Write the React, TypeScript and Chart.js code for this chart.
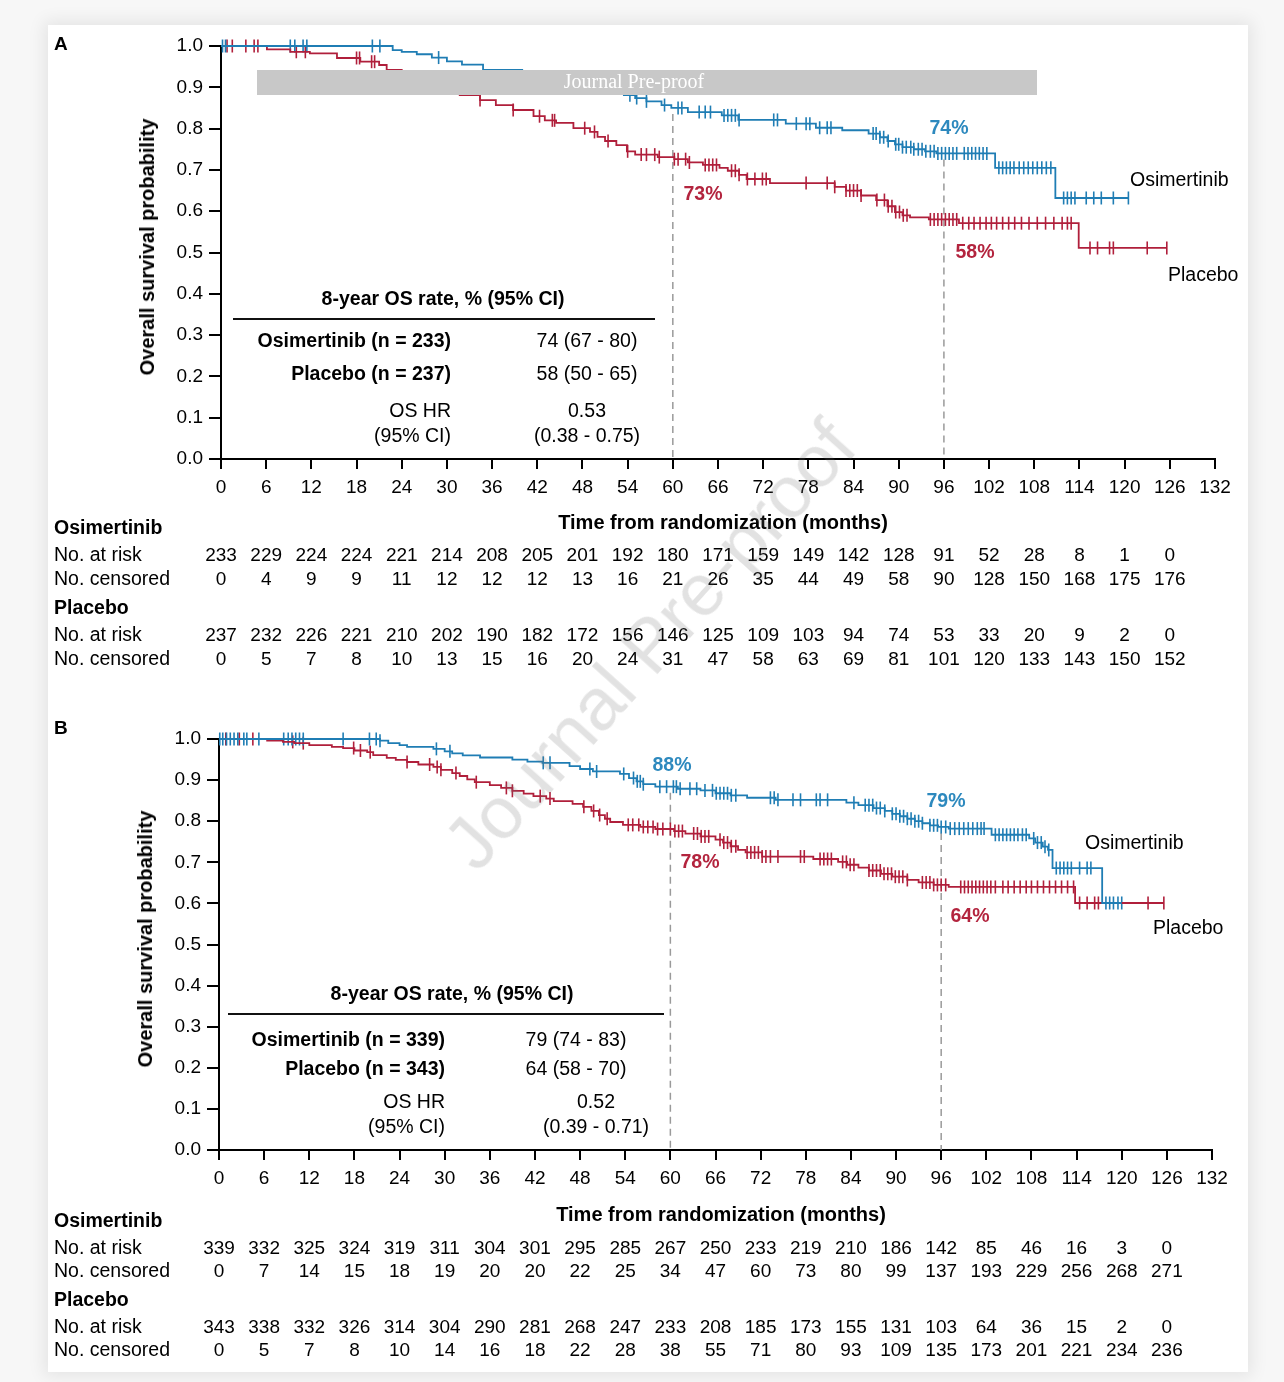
import React, { useEffect, useRef } from 'react';
import { Chart, registerables } from 'chart.js';
Chart.register(...registerables);

// ---------------- DATA ----------------
const xTicks = [0, 6, 12, 18, 24, 30, 36, 42, 48, 54, 60, 66, 72, 78, 84, 90, 96, 102, 108, 114, 120, 126, 132];
const yTicks = [0, 0.1, 0.2, 0.3, 0.4, 0.5, 0.6, 0.7, 0.8, 0.9, 1.0];
const riskTimes = [0, 6, 12, 18, 24, 30, 36, 42, 48, 54, 60, 66, 72, 78, 84, 90, 96, 102, 108, 114, 120, 126];

// Panel A – Osimertinib (event times / survival after event / censor times)
const osiA_t = [22.8, 24, 26, 28, 30, 32, 34.8, 40, 42, 44, 46, 48, 50, 52, 53.5, 55, 56.5, 58.5, 59.8, 62, 66.5, 68.7, 75, 79, 82.5, 86, 87.5, 88.5, 89.5, 90.5, 92, 93.5, 95, 102.8, 110.8];
const osiA_s = [0.990, 0.986, 0.980, 0.972, 0.963, 0.955, 0.942, 0.935, 0.928, 0.920, 0.910, 0.902, 0.895, 0.888, 0.881, 0.874, 0.866, 0.857, 0.850, 0.840, 0.832, 0.821, 0.812, 0.802, 0.796, 0.788, 0.779, 0.770, 0.762, 0.755, 0.750, 0.745, 0.740, 0.705, 0.632];
const osiA_c = [0.2, 0.6, 9.2, 9.8, 10.9, 11.4, 20.1, 21.1, 28.9, 54.3, 55.2, 56.5, 58.9, 60.7, 61.2, 63.5, 64.3, 65, 66.8, 67.3, 67.8, 68.3, 68.8, 73.4, 73.9, 76.4, 77.7, 78.2, 79.5, 80.5, 81, 86.6, 87, 87.5, 88, 88.6, 89.6, 90, 90.5, 91, 91.6, 92, 92.6, 93.1, 93.6, 94.2, 94.7, 95.2, 95.7, 96.2, 96.7, 97.2, 97.7, 98.7, 99.2, 99.7, 100.2, 100.7, 101.2, 101.7, 103.3, 103.8, 104.3, 104.8, 105.3, 106, 106.6, 107.2, 107.8, 108.4, 109, 109.6, 110.2, 111.9, 112.4, 112.9, 113.4, 114.9, 115.9, 116.9, 118.5, 120.5];

// Panel A – Placebo
const plaA_t = [6.1, 9.2, 11.8, 15.4, 18.5, 21, 22, 24, 26, 28, 30, 31.7, 34.4, 36.5, 38.8, 41.5, 43, 44.5, 46.8, 49, 50, 51, 52.5, 53.9, 55, 58, 60.2, 62, 64, 66.2, 67.3, 68.8, 69.8, 72.9, 81.5, 83, 85, 87, 88.5, 89.5, 90.5, 91.5, 94, 98, 113.9];
const plaA_s = [0.992, 0.986, 0.982, 0.971, 0.962, 0.954, 0.942, 0.930, 0.918, 0.905, 0.893, 0.881, 0.869, 0.857, 0.845, 0.830, 0.820, 0.814, 0.801, 0.792, 0.780, 0.770, 0.760, 0.745, 0.737, 0.731, 0.726, 0.718, 0.712, 0.705, 0.698, 0.688, 0.678, 0.668, 0.659, 0.650, 0.638, 0.627, 0.612, 0.598, 0.590, 0.585, 0.580, 0.571, 0.511];
const plaA_c = [0.8, 1.5, 3.3, 4.4, 4.9, 10, 11.2, 18, 18.4, 20, 20.4, 34.4, 38.8, 42.3, 44, 44.3, 48.3, 49.6, 51.4, 54, 55.8, 56.5, 57.6, 58.2, 60.2, 60.7, 61.7, 62.2, 64.3, 64.8, 65.3, 65.8, 67.8, 68.3, 68.8, 69.9, 70.9, 71.9, 72.4, 77.7, 80.5, 81.5, 83, 83.5, 84, 84.5, 85, 87.1, 88.1, 88.6, 89.1, 89.6, 90.1, 90.6, 91.1, 94.2, 94.7, 95.2, 95.7, 96.2, 96.7, 97.2, 97.7, 98.5, 99.3, 100, 100.8, 101.6, 102.3, 103, 103.8, 104.6, 105.4, 106.3, 107.3, 108.4, 109.5, 110.6, 111.7, 112.4, 112.9, 115.4, 116.4, 118, 118.5, 123, 125.6];

// Panel B – Osimertinib
const osiB_t = [21.4, 22.5, 24, 25, 28.5, 30, 31, 32.4, 34.7, 39, 41, 43, 46.6, 48, 49.7, 53.3, 54.5, 55.5, 56.4, 58, 61, 64, 66, 68, 70.2, 74, 83.4, 85, 87, 88.5, 89.5, 90.5, 91.5, 92.5, 93.5, 94.5, 95.6, 97, 102.7, 107.7, 108.5, 109.5, 110.2, 110.8, 117.4];
const osiB_s = [0.996, 0.990, 0.985, 0.981, 0.976, 0.970, 0.965, 0.960, 0.955, 0.950, 0.945, 0.942, 0.934, 0.927, 0.921, 0.915, 0.905, 0.897, 0.890, 0.884, 0.879, 0.875, 0.868, 0.863, 0.857, 0.852, 0.845, 0.839, 0.832, 0.825, 0.818, 0.812, 0.806, 0.800, 0.795, 0.790, 0.786, 0.782, 0.767, 0.758, 0.748, 0.738, 0.730, 0.686, 0.601];
const osiB_c = [0.1, 0.5, 1, 1.5, 2, 2.5, 3.3, 3.7, 5.3, 8.6, 9.2, 9.7, 10.2, 10.7, 11.2, 16.5, 20, 20.9, 21.4, 28.9, 30.7, 43.1, 44, 49.3, 50.2, 53.8, 55.1, 55.6, 56, 56.4, 58.6, 59.5, 60.4, 60.8, 61.3, 62.6, 63.5, 64.6, 65.6, 66.1, 66.6, 67.1, 67.6, 68.1, 68.7, 73.3, 73.8, 74.3, 76.3, 77.3, 79.4, 79.9, 80.9, 84.4, 85.9, 86.4, 86.9, 87.4, 87.9, 88.5, 89.5, 90, 90.5, 91, 91.5, 92, 92.5, 93, 93.5, 94.5, 95, 95.5, 96, 96.6, 97.2, 97.8, 98.4, 99, 99.6, 100.2, 100.8, 101.3, 101.7, 103.2, 103.7, 104.2, 104.7, 105.2, 105.7, 106.2, 106.8, 107.3, 108.3, 108.8, 109.3, 109.8, 110.3, 111.3, 111.8, 112.3, 112.8, 113.3, 114.4, 115.4, 115.9, 117.9, 118.4, 118.9, 119.5, 120];

// Panel B – Placebo
const plaB_t = [6.4, 8.5, 10, 12, 15, 16.5, 18, 19.7, 20.5, 22.3, 23.5, 25, 26.5, 28.5, 29.5, 31, 32, 33, 34, 36, 37.5, 39, 40.5, 41.8, 43.5, 44.5, 47, 48.4, 49.5, 50.5, 51.3, 52, 53.7, 56, 58, 60.5, 62, 64, 66, 67, 68, 69, 70, 72.2, 79, 82.3, 83.5, 85, 86.4, 88, 89.5, 91.5, 93, 95, 97, 113.8];
const plaB_s = [0.996, 0.993, 0.990, 0.985, 0.981, 0.978, 0.972, 0.968, 0.961, 0.954, 0.949, 0.944, 0.938, 0.932, 0.925, 0.917, 0.910, 0.902, 0.895, 0.888, 0.881, 0.874, 0.867, 0.861, 0.855, 0.849, 0.842, 0.835, 0.825, 0.815, 0.806, 0.798, 0.791, 0.786, 0.781, 0.776, 0.770, 0.763, 0.755, 0.748, 0.739, 0.730, 0.724, 0.714, 0.708, 0.701, 0.694, 0.687, 0.680, 0.672, 0.665, 0.657, 0.651, 0.645, 0.640, 0.601];
const plaB_c = [0.9, 2.7, 4.5, 9.8, 11.2, 17.9, 18.8, 20.1, 25, 28, 29, 29.5, 31.5, 34.2, 38.2, 39, 42.7, 44, 48.5, 49.8, 50.6, 51.6, 54.4, 55, 55.8, 56.4, 57, 57.7, 58.3, 59, 60, 60.6, 61.1, 61.6, 63.1, 63.6, 64.1, 64.6, 65.1, 66.6, 67.1, 67.6, 68.1, 68.7, 70.2, 70.7, 71.2, 71.7, 72.2, 72.7, 73.3, 74.3, 77.3, 77.8, 79.9, 80.4, 80.9, 81.4, 82.9, 83.4, 83.9, 84.4, 86.4, 86.9, 87.4, 87.9, 88.4, 88.9, 89.4, 89.9, 90.4, 90.9, 91.5, 93.5, 94, 94.5, 95, 95.5, 96, 96.6, 98.6, 99.1, 99.6, 100.1, 100.6, 101.1, 101.6, 102.1, 102.6, 103.2, 104.2, 104.9, 105.7, 106.5, 107.3, 108, 108.8, 109.6, 110.4, 111.2, 112, 112.8, 113.6, 114.4, 115.4, 116.4, 116.9, 123.5, 125.6];

// Risk tables
const riskA_osiAtRisk = [233, 229, 224, 224, 221, 214, 208, 205, 201, 192, 180, 171, 159, 149, 142, 128, 91, 52, 28, 8, 1, 0];
const riskA_osiCens = [0, 4, 9, 9, 11, 12, 12, 12, 13, 16, 21, 26, 35, 44, 49, 58, 90, 128, 150, 168, 175, 176];
const riskA_plaAtRisk = [237, 232, 226, 221, 210, 202, 190, 182, 172, 156, 146, 125, 109, 103, 94, 74, 53, 33, 20, 9, 2, 0];
const riskA_plaCens = [0, 5, 7, 8, 10, 13, 15, 16, 20, 24, 31, 47, 58, 63, 69, 81, 101, 120, 133, 143, 150, 152];
const riskB_osiAtRisk = [339, 332, 325, 324, 319, 311, 304, 301, 295, 285, 267, 250, 233, 219, 210, 186, 142, 85, 46, 16, 3, 0];
const riskB_osiCens = [0, 7, 14, 15, 18, 19, 20, 20, 22, 25, 34, 47, 60, 73, 80, 99, 137, 193, 229, 256, 268, 271];
const riskB_plaAtRisk = [343, 338, 332, 326, 314, 304, 290, 281, 268, 247, 233, 208, 185, 173, 155, 131, 103, 64, 36, 15, 2, 0];
const riskB_plaCens = [0, 5, 7, 8, 10, 14, 16, 18, 22, 28, 38, 55, 71, 80, 93, 109, 135, 173, 201, 221, 234, 236];

// Inset tables
const insetA_rows = ['Osimertinib (n = 233)', 'Placebo (n = 237)'];
const insetA_vals = ['74 (67 - 80)', '58 (50 - 65)'];
const insetA_hr = ['0.53', '(0.38 - 0.75)'];
const insetB_rows = ['Osimertinib (n = 339)', 'Placebo (n = 343)'];
const insetB_vals = ['79 (74 - 83)', '64 (58 - 70)'];
const insetB_hr = ['0.52', '(0.39 - 0.71)'];

// Landmarks
const marksA = [60, 96];
const marksB = [60, 96];

// ---------------- STYLE ----------------
const BLUE = '#1f7db4';
const RED = '#b01f3b';
const BLUE_TXT = '#2d89be';
const RED_TXT = '#b3243e';
const FONT = "'Liberation Sans', Arial, Helvetica, sans-serif";

function survAt(times: number[], surv: number[], t: number) {
  let s = 1;
  for (let i = 0; i < times.length; i++) if (times[i] <= t) s = surv[i];
  return s;
}

function kmPoints(times: number[], surv: number[], cens: number[]) {
  const end = Math.max(...cens, ...times);
  const pts = [{ x: 0, y: 1 }];
  times.forEach((t, i) => pts.push({ x: t, y: surv[i] }));
  pts.push({ x: end, y: survAt(times, surv, end) });
  return pts;
}
function censPoints(times: number[], surv: number[], cens: number[]) {
  return cens.map((t) => ({ x: t, y: survAt(times, surv, t) }));
}

type Txt = { s: string; x: number; y: number; size?: number; bold?: boolean; align?: CanvasTextAlign; color?: string; family?: string };

interface PanelCfg {
  ox: number; oy: number; W: number; H: number;
  area: { left: number; right: number; top: number; bottom: number };
  osi: { t: number[]; s: number[]; c: number[] };
  pla: { t: number[]; s: number[]; c: number[] };
  risk: number[][];
  riskRows: number[];
  marks: number[];
  texts: Txt[];
  inset: { rows: string[]; vals: string[]; hr: string[]; titleX: number; titleY: number; lineX0: number; lineX1: number; lineY: number; rowRight: number; valX: number; hrX: number; rowY: number[] };
  bar?: { x0: number; x1: number; y0: number; y1: number; textX: number };
}

function drawText(ctx: CanvasRenderingContext2D, cfg: PanelCfg, t: Txt) {
  ctx.save();
  ctx.font = `${t.bold ? 'bold ' : ''}${t.size || 19}px ${t.family || FONT}`;
  ctx.fillStyle = t.color || '#000';
  ctx.textAlign = t.align || 'left';
  ctx.textBaseline = 'middle';
  ctx.fillText(t.s, t.x - cfg.ox, t.y - cfg.oy);
  ctx.restore();
}

function makeOverlay(cfg: PanelCfg) {
  return {
    id: 'overlay',
    beforeDatasetsDraw(chart: any) {
      const ctx = chart.ctx as CanvasRenderingContext2D;
      const xs = chart.scales.x, ys = chart.scales.y;
      ctx.save();
      ctx.strokeStyle = '#9a9a9a';
      ctx.lineWidth = 1.5;
      ctx.setLineDash([7, 5]);
      cfg.marks.forEach((m) => {
        const x = xs.getPixelForValue(m);
        const yTop = ys.getPixelForValue(survAt(cfg.osi.t, cfg.osi.s, m)) + 6;
        ctx.beginPath();
        ctx.moveTo(x, yTop);
        ctx.lineTo(x, ys.getPixelForValue(0));
        ctx.stroke();
      });
      ctx.restore();
    },
    afterDraw(chart: any) {
      const ctx = chart.ctx as CanvasRenderingContext2D;
      const xs = chart.scales.x;
      if (cfg.bar) {
        ctx.save();
        ctx.fillStyle = '#c8c8c8';
        ctx.fillRect(cfg.bar.x0 - cfg.ox, cfg.bar.y0 - cfg.oy, cfg.bar.x1 - cfg.bar.x0, cfg.bar.y1 - cfg.bar.y0);
        ctx.restore();
        drawText(ctx, cfg, { s: 'Journal Pre-proof', x: cfg.bar.textX, y: (cfg.bar.y0 + cfg.bar.y1) / 2, size: 20, color: '#ffffff', align: 'center', family: "'Liberation Serif', 'DejaVu Serif', serif" });
      }
      cfg.texts.forEach((t) => drawText(ctx, cfg, t));
      const ins = cfg.inset;
      drawText(ctx, cfg, { s: '8-year OS rate, % (95% CI)', x: ins.titleX, y: ins.titleY, size: 19.5, bold: true, align: 'center' });
      ctx.save();
      ctx.strokeStyle = '#111';
      ctx.lineWidth = 2;
      ctx.beginPath();
      ctx.moveTo(ins.lineX0 - cfg.ox, ins.lineY - cfg.oy);
      ctx.lineTo(ins.lineX1 - cfg.ox, ins.lineY - cfg.oy);
      ctx.stroke();
      ctx.restore();
      ins.rows.forEach((r, i) => {
        drawText(ctx, cfg, { s: r, x: ins.rowRight, y: ins.rowY[i], size: 19.5, bold: true, align: 'right' });
        drawText(ctx, cfg, { s: ins.vals[i], x: ins.valX, y: ins.rowY[i], size: 19.5, align: 'center' });
      });
      drawText(ctx, cfg, { s: 'OS HR', x: ins.rowRight, y: ins.rowY[2], size: 19.5, align: 'right' });
      drawText(ctx, cfg, { s: '(95% CI)', x: ins.rowRight, y: ins.rowY[3], size: 19.5, align: 'right' });
      drawText(ctx, cfg, { s: ins.hr[0], x: ins.hrX, y: ins.rowY[2], size: 19.5, align: 'center' });
      drawText(ctx, cfg, { s: ins.hr[1], x: ins.hrX, y: ins.rowY[3], size: 19.5, align: 'center' });
      const r = cfg.riskRows;
      drawText(ctx, cfg, { s: 'Osimertinib', x: 54, y: r[0], size: 19.5, bold: true });
      drawText(ctx, cfg, { s: 'No. at risk', x: 54, y: r[1], size: 19.5 });
      drawText(ctx, cfg, { s: 'No. censored', x: 54, y: r[2], size: 19.5 });
      drawText(ctx, cfg, { s: 'Placebo', x: 54, y: r[3], size: 19.5, bold: true });
      drawText(ctx, cfg, { s: 'No. at risk', x: 54, y: r[4], size: 19.5 });
      drawText(ctx, cfg, { s: 'No. censored', x: 54, y: r[5], size: 19.5 });
      const rowYs = [r[1], r[2], r[4], r[5]];
      cfg.risk.forEach((vals, ri) => {
        vals.forEach((v, i) => {
          const x = xs.getPixelForValue(riskTimes[i]) + cfg.ox;
          drawText(ctx, cfg, { s: String(v), x, y: rowYs[ri], size: 19, align: 'center' });
        });
      });
    },
  };
}

function buildConfig(cfg: PanelCfg): any {
  const a = cfg.area;
  const tickFont = { family: FONT, size: 19 };
  return {
    type: 'line',
    data: {
      datasets: [
        { data: kmPoints(cfg.osi.t, cfg.osi.s, cfg.osi.c), borderColor: BLUE, borderWidth: 1.8, pointRadius: 0, stepped: 'before', fill: false, clip: false },
        { data: kmPoints(cfg.pla.t, cfg.pla.s, cfg.pla.c), borderColor: RED, borderWidth: 1.8, pointRadius: 0, stepped: 'before', fill: false, clip: false },
        { data: censPoints(cfg.osi.t, cfg.osi.s, cfg.osi.c), showLine: false, pointStyle: 'line', rotation: 90, pointRadius: 6.5, pointBorderWidth: 1.6, borderColor: BLUE, pointBorderColor: BLUE, backgroundColor: BLUE, clip: false },
        { data: censPoints(cfg.pla.t, cfg.pla.s, cfg.pla.c), showLine: false, pointStyle: 'line', rotation: 90, pointRadius: 6.5, pointBorderWidth: 1.6, borderColor: RED, pointBorderColor: RED, backgroundColor: RED, clip: false },
      ],
    },
    options: {
      animation: false,
      responsive: false,
      maintainAspectRatio: false,
      events: [],
      layout: { padding: { left: 0, right: cfg.W - a.right, top: a.top, bottom: 0 } },
      plugins: { legend: { display: false }, tooltip: { enabled: false }, title: { display: false } },
      scales: {
        x: {
          type: 'linear', min: 0, max: 132, position: 'bottom',
          afterFit: (s: any) => { s.height = cfg.H - a.bottom; },
          afterBuildTicks: (s: any) => { s.ticks = xTicks.map((v) => ({ value: v })); },
          ticks: { autoSkip: false, maxRotation: 0, minRotation: 0, padding: 7, color: '#000', font: tickFont, callback: (v: any) => String(v) },
          grid: { drawOnChartArea: false, drawTicks: true, tickLength: 10, color: '#000', lineWidth: 2 },
          border: { color: '#000', width: 2 },
        },
        y: {
          type: 'linear', min: 0, max: 1, position: 'left',
          afterFit: (s: any) => { s.width = a.left; },
          afterBuildTicks: (s: any) => { s.ticks = yTicks.map((v) => ({ value: v })); },
          ticks: { padding: 6, color: '#000', font: tickFont, callback: (v: any) => Number(v).toFixed(1) },
          grid: { drawOnChartArea: false, drawTicks: true, tickLength: 12, color: '#000', lineWidth: 2 },
          border: { color: '#000', width: 2 },
        },
      },
    },
    plugins: [makeOverlay(cfg)],
  };
}

const panelA: PanelCfg = {
  ox: 48, oy: 25, W: 1200, H: 670,
  area: { left: 173, right: 1167, top: 21, bottom: 434 },
  osi: { t: osiA_t, s: osiA_s, c: osiA_c },
  pla: { t: plaA_t, s: plaA_s, c: plaA_c },
  risk: [riskA_osiAtRisk, riskA_osiCens, riskA_plaAtRisk, riskA_plaCens],
  riskRows: [529, 556, 580, 609, 636, 660],
  marks: marksA,
  bar: { x0: 257, x1: 1037, y0: 70, y1: 95, textX: 634 },
  texts: [
    { s: 'A', x: 54, y: 45, size: 19, bold: true },
    { s: 'Time from randomization (months)', x: 723, y: 523, size: 20, bold: true, align: 'center' },
    { s: '74%', x: 949, y: 129, size: 19.5, bold: true, align: 'center', color: BLUE_TXT },
    { s: '73%', x: 703, y: 195, size: 19.5, bold: true, align: 'center', color: RED_TXT },
    { s: '58%', x: 975, y: 253, size: 19.5, bold: true, align: 'center', color: RED_TXT },
    { s: 'Osimertinib', x: 1130, y: 181, size: 19.5 },
    { s: 'Placebo', x: 1168, y: 276, size: 19.5 },
  ],
  inset: { rows: insetA_rows, vals: insetA_vals, hr: insetA_hr, titleX: 443, titleY: 300, lineX0: 233, lineX1: 655, lineY: 319, rowRight: 451, valX: 587, hrX: 587, rowY: [342, 375, 412, 437] },
};

const panelB: PanelCfg = {
  ox: 48, oy: 700, W: 1200, H: 672,
  area: { left: 171, right: 1164, top: 39, bottom: 450 },
  osi: { t: osiB_t, s: osiB_s, c: osiB_c },
  pla: { t: plaB_t, s: plaB_s, c: plaB_c },
  risk: [riskB_osiAtRisk, riskB_osiCens, riskB_plaAtRisk, riskB_plaCens],
  riskRows: [1222, 1249, 1272, 1301, 1328, 1351],
  marks: marksB,
  texts: [
    { s: 'B', x: 54, y: 729, size: 19, bold: true },
    { s: 'Time from randomization (months)', x: 721, y: 1215, size: 20, bold: true, align: 'center' },
    { s: '88%', x: 672, y: 766, size: 19.5, bold: true, align: 'center', color: BLUE_TXT },
    { s: '79%', x: 946, y: 802, size: 19.5, bold: true, align: 'center', color: BLUE_TXT },
    { s: '78%', x: 700, y: 863, size: 19.5, bold: true, align: 'center', color: RED_TXT },
    { s: '64%', x: 970, y: 917, size: 19.5, bold: true, align: 'center', color: RED_TXT },
    { s: 'Osimertinib', x: 1085, y: 844, size: 19.5 },
    { s: 'Placebo', x: 1153, y: 929, size: 19.5 },
  ],
  inset: { rows: insetB_rows, vals: insetB_vals, hr: insetB_hr, titleX: 452, titleY: 995, lineX0: 228, lineX1: 664, lineY: 1014, rowRight: 445, valX: 576, hrX: 596, rowY: [1041, 1070, 1103, 1128] },
};

const yTitles = [
  { x: 147, y: 247 },
  { x: 145, y: 939 },
];

function Panel({ cfg }: { cfg: PanelCfg }) {
  const ref = useRef<HTMLCanvasElement | null>(null);
  useEffect(() => {
    if (!ref.current) return;
    const chart = new Chart(ref.current, buildConfig(cfg));
    return () => chart.destroy();
  }, [cfg]);
  return (
    <canvas
      ref={ref}
      width={cfg.W}
      height={cfg.H}
      style={{ position: 'absolute', left: cfg.ox, top: cfg.oy, width: cfg.W, height: cfg.H }}
    />
  );
}

export default function App() {
  return (
    <div style={{ position: 'absolute', left: 0, top: 0, width: 1284, height: 1382, background: '#f7f7f7', overflow: 'hidden', fontFamily: FONT }}>
      <div style={{ position: 'absolute', left: 48, top: 25, width: 1200, height: 1347, background: '#fff', boxShadow: '0 0 16px 4px rgba(0,0,0,0.08)' }} />
      <Panel cfg={panelA} />
      <Panel cfg={panelB} />
      {yTitles.map((p, i) => (
        <div
          key={i}
          style={{
            position: 'absolute', left: p.x, top: p.y, transform: 'translate(-50%, -50%) rotate(-90deg)',
            whiteSpace: 'nowrap', fontWeight: 'bold', fontSize: 20, color: '#000', lineHeight: 1,
          }}
        >
          Overall survival probability
        </div>
      ))}
      <div
        style={{
          position: 'absolute', left: 650, top: 645, transform: 'translate(-50%, -50%) rotate(-48deg)',
          whiteSpace: 'nowrap', fontSize: 74, color: 'rgba(110,110,110,0.2)', lineHeight: 1, pointerEvents: 'none',
        }}
      >
        Journal Pre-proof
      </div>
    </div>
  );
}
